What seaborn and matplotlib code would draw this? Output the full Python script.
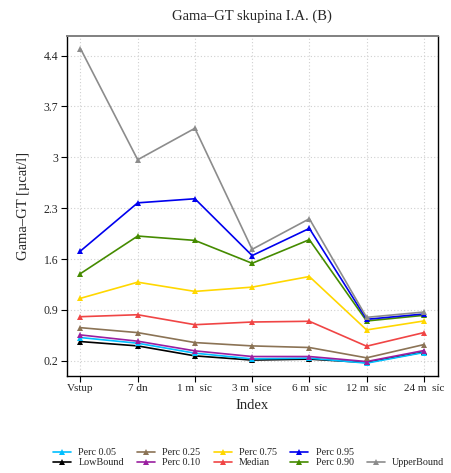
import numpy as np
import pandas as pd
import matplotlib
matplotlib.use("Agg")
import matplotlib.pyplot as plt
from matplotlib.lines import Line2D
import seaborn as sns

# x categories (as rendered in the original, with the missing glyph dropped)
periods = ["Vstup", "7 dn", "1 m  síc", "3 m  síce", "6 m  síc", "12 m  síc", "24 m  síc"]

low_bound = [0.465, 0.405, 0.268, 0.210, 0.223, 0.177, 0.320]
perc_05 = [0.520, 0.442, 0.305, 0.227, 0.237, 0.168, 0.314]
perc_10 = [0.556, 0.470, 0.337, 0.259, 0.259, 0.190, 0.341]
perc_25 = [0.656, 0.588, 0.451, 0.405, 0.383, 0.241, 0.423]
median = [0.807, 0.834, 0.697, 0.734, 0.744, 0.401, 0.588]
perc_75 = [1.060, 1.282, 1.155, 1.214, 1.360, 0.625, 0.748]
perc_90 = [1.400, 1.917, 1.857, 1.542, 1.867, 0.748, 0.826]
perc_95 = [1.711, 2.374, 2.430, 1.648, 2.022, 0.771, 0.844]
upper_bound = [4.497, 2.967, 3.400, 1.734, 2.155, 0.798, 0.871]

yticks = [0.2, 0.9, 1.6, 2.3, 3, 3.7, 4.4]

series = {
    "LowBound": low_bound,
    "Perc 0.05": perc_05,
    "Perc 0.10": perc_10,
    "Perc 0.25": perc_25,
    "Median": median,
    "Perc 0.75": perc_75,
    "Perc 0.90": perc_90,
    "Perc 0.95": perc_95,
    "UpperBound": upper_bound,
}
colors = {
    "LowBound": "#000000",
    "Perc 0.05": "#00BFFF",
    "Perc 0.10": "#9A1FA0",
    "Perc 0.25": "#8B7355",
    "Median": "#F04545",
    "Perc 0.75": "#FFD700",
    "Perc 0.90": "#458B00",
    "Perc 0.95": "#0000EE",
    "UpperBound": "#8C8C8C",
}

df = pd.DataFrame(
    [(i, name, v) for name, vals in series.items() for i, v in enumerate(vals)],
    columns=["idx", "series", "value"],
)

sns.set_style("white")
plt.rcParams["font.family"] = ["Liberation Serif", "DejaVu Serif"]

fig = plt.figure(figsize=(4.52, 4.73), dpi=100)
ax = fig.add_axes([0.1476, 0.2057, 0.8204, 0.7182])

sns.lineplot(data=df, x="idx", y="value", hue="series", palette=colors,
             hue_order=list(series.keys()), marker="^", markersize=4.5,
             markeredgewidth=0, linewidth=1.2, ax=ax, legend=False)

ax.set_xlim(-0.24, 6.24)
ax.set_ylim(-0.005, 4.67)
ax.set_xticks(range(len(periods)))
ax.set_xticklabels(periods, fontsize=8)
ax.set_yticks(yticks)
ax.set_yticklabels([f"{t:g}" for t in yticks], fontsize=8.5)
ax.grid(True, linestyle=(0, (1, 2)), color="#d0d0d0", linewidth=0.8)
ax.tick_params(axis="both", direction="out", length=4, width=0.8,
               color="black", bottom=True, left=True, pad=2)
for s in ax.spines.values():
    s.set_color("black")
    s.set_linewidth(1.0)
ax.spines["top"].set_color("#808080")
ax.spines["top"].set_linewidth(1.4)

ax.set_title("Gama–GT skupina I.A. (B)", fontsize=10.5, pad=12)
ax.set_xlabel("Index", fontsize=10.5, labelpad=4)
ax.set_ylabel("Gama–GT [µcat/l]", fontsize=10.5, labelpad=10)

# legend laid out column-wise like the original (5 columns, 2 rows)
order = ["Perc 0.05", "LowBound", "Perc 0.25", "Perc 0.10", "Perc 0.75",
         "Median", "Perc 0.95", "Perc 0.90", None, "UpperBound"]
handles, labels = [], []
for name in order:
    if name is None:
        handles.append(Line2D([], [], color="none"))
        labels.append("")
    else:
        handles.append(Line2D([], [], color=colors[name], marker="^",
                              markersize=4, markeredgewidth=0, linewidth=1.2))
        labels.append(name)
fig.legend(handles, labels, ncol=5, loc="center left",
           bbox_to_anchor=(53 / 452, 0.0323), borderpad=0, borderaxespad=0,
           frameon=False, fontsize=7.3, handlelength=1.75, columnspacing=1.3,
           labelspacing=0.1, handletextpad=0.75)

fig.savefig("out.png", dpi=100)
